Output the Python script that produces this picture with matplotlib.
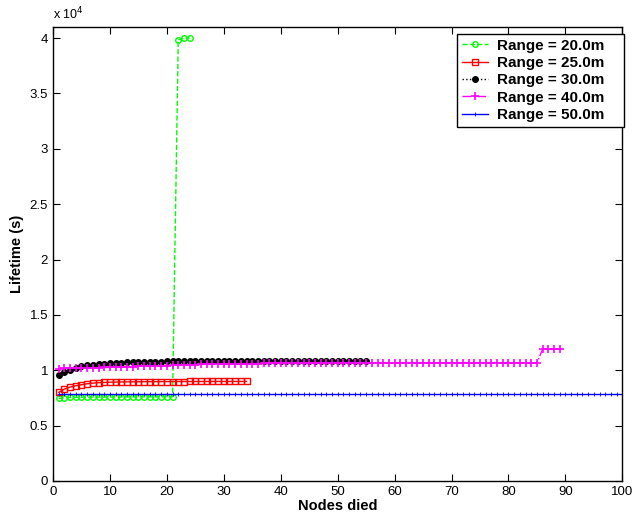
import matplotlib
matplotlib.use("Agg")
import matplotlib.pyplot as plt
from matplotlib.ticker import FuncFormatter

plt.rcParams['font.family'] = ['Liberation Sans', 'DejaVu Sans']

# ---- data (Lifetime in seconds vs. number of nodes died) ----
green_y = [7450, 7520, 7550, 7560, 7570, 7570, 7575, 7580, 7580, 7585,
           7585, 7590, 7590, 7590, 7595, 7595, 7600, 7600, 7600, 7605,
           7610, 39850, 40000, 40000]
green_x = list(range(1, len(green_y) + 1))

red_y = [8000, 8300, 8480, 8600, 8690, 8780, 8840, 8880, 8900, 8920,
         8930, 8940, 8950, 8955, 8960, 8965, 8970, 8970, 8975, 8975,
         8980, 8980, 8980, 8985, 8985, 8985, 8990, 8990, 8990, 8990,
         8990, 8990, 8990, 8990]
red_x = list(range(1, len(red_y) + 1))

black_y = [9530, 9840, 10050, 10200, 10350, 10440, 10500, 10560, 10590, 10630,
           10660, 10690, 10710, 10730, 10750, 10760, 10770, 10780, 10790, 10800,
           10810, 10815, 10820, 10820, 10825, 10825, 10830, 10830, 10830, 10830,
           10830, 10830, 10830, 10830, 10830, 10830, 10830, 10830, 10830, 10830,
           10830, 10830, 10830, 10830, 10830, 10830, 10830, 10830, 10830, 10830,
           10830, 10830, 10830, 10830, 10830]
black_x = list(range(1, len(black_y) + 1))

magenta_y = [10150, 10170, 10190, 10200, 10210, 10220, 10230, 10240, 10250, 10260,
             10270, 10290, 10310, 10330, 10350, 10370, 10380, 10390, 10400, 10420,
             10440, 10460, 10480, 10490, 10500, 10520, 10530, 10540, 10550, 10560,
             10570, 10580, 10590, 10600, 10600, 10610, 10620, 10620, 10630, 10630,
             10640, 10640, 10640, 10650, 10650, 10650, 10650, 10650, 10650, 10650,
             10650, 10650, 10650, 10650, 10650, 10650, 10650, 10650, 10650, 10650,
             10650, 10650, 10650, 10650, 10650, 10650, 10650, 10650, 10650, 10650,
             10650, 10650, 10650, 10650, 10650, 10650, 10650, 10650, 10650, 10650,
             10650, 10650, 10650, 10650, 10650, 11900, 11900, 11900, 11900]
magenta_x = list(range(1, len(magenta_y) + 1))

blue_y = [7900] * 100
blue_x = list(range(1, len(blue_y) + 1))

labels = ['Range = 20.0m', 'Range = 25.0m', 'Range = 30.0m',
          'Range = 40.0m', 'Range = 50.0m']
x_ticks = [0, 10, 20, 30, 40, 50, 60, 70, 80, 90, 100]
y_ticks = [0, 5000, 10000, 15000, 20000, 25000, 30000, 35000, 40000]

# ---- figure ----
fig = plt.figure(figsize=(6.35, 5.13), dpi=100)
ax = fig.add_axes([0.0835, 0.0624, 0.8965, 0.885])

ax.plot(green_x, green_y, linestyle='--', color='#00ff00', marker='o',
        markersize=4.0, markerfacecolor='none', markeredgewidth=1.0,
        linewidth=1.0, label=labels[0])
ax.plot(red_x, red_y, linestyle='-', color='#ff0000', marker='s',
        markersize=4.0, markerfacecolor='none', markeredgewidth=1.0,
        linewidth=1.0, label=labels[1])
ax.plot(black_x, black_y, linestyle=':', color='black', marker='.',
        markersize=8, linewidth=1.0, label=labels[2])
ax.plot(magenta_x, magenta_y, linestyle='-.', color='#ff00ff', marker='+',
        markersize=6, markeredgewidth=1.2, linewidth=1.0, label=labels[3])
ax.plot(blue_x, blue_y, linestyle='-', color='#0000ff', marker='+',
        markersize=2.5, markeredgewidth=0.6, linewidth=1.0, label=labels[4])

ax.set_xlim(0, 100)
ax.set_ylim(0, 41000)
ax.set_xticks(x_ticks)
ax.set_yticks(y_ticks)
ax.yaxis.set_major_formatter(FuncFormatter(lambda v, p: f"{v/1e4:g}"))
ax.tick_params(direction='in', length=5, width=0.8, labelsize=9.5,
               top=True, right=True)
for s in ax.spines.values():
    s.set_linewidth(1.0)

ax.set_xlabel('Nodes died', fontsize=10.5, fontweight='bold', labelpad=1)
ax.set_ylabel('Lifetime (s)', fontsize=10.5, fontweight='bold', labelpad=4)
ax.text(0.0, 1.01, r'x 10$^4$', transform=ax.transAxes, fontsize=9,
        ha='left', va='bottom')

leg = ax.legend(loc='upper left', bbox_to_anchor=(0.7096, 0.5, 0.294, 0.4846),
                mode='expand', borderaxespad=0.0,
                prop={'weight': 'bold', 'size': 11},
                fancybox=False, edgecolor='black', framealpha=1.0,
                handlelength=1.75, labelspacing=0.22, borderpad=0.3,
                handletextpad=0.6)
leg.get_frame().set_linewidth(1.0)

fig.savefig('out.png', dpi=100)
